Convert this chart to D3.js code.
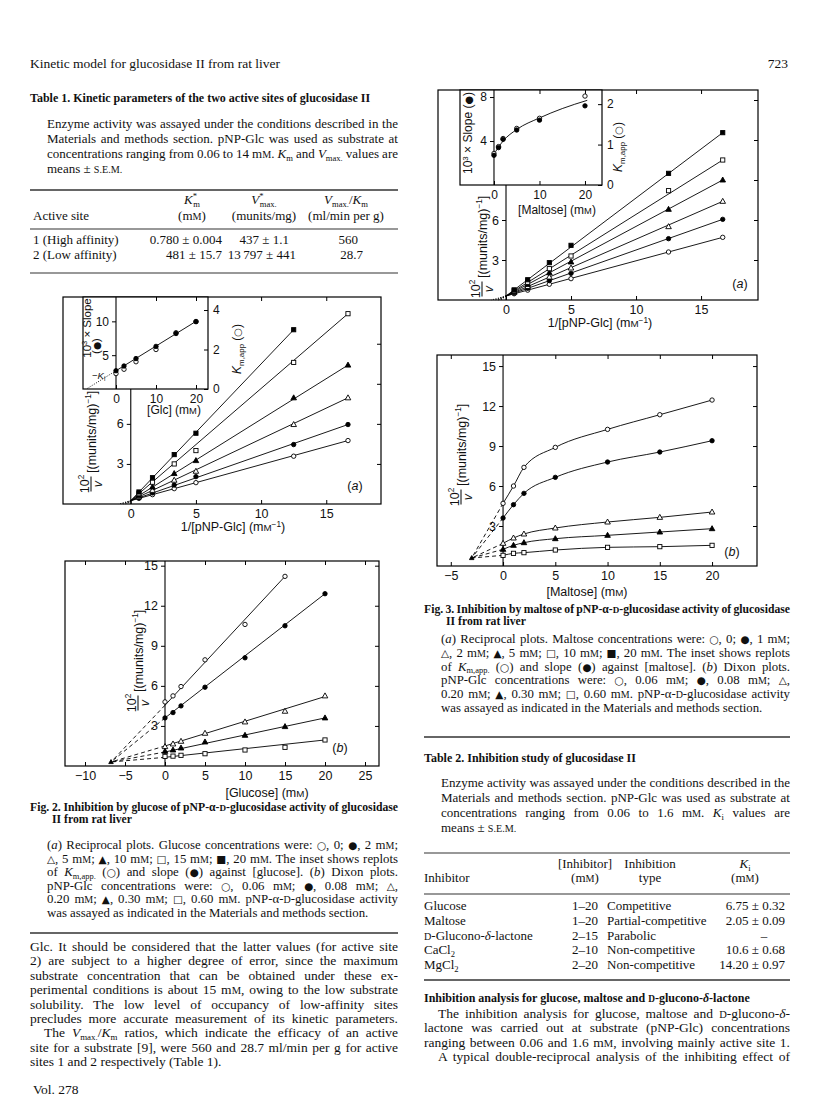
<!DOCTYPE html>
<html><head><meta charset="utf-8">
<script src="https://cdn.jsdelivr.net/npm/d3@7"></script>
<style>
html,body{margin:0;padding:0;background:#fff;}
svg{display:block;}
</style></head><body>
<svg id="page" width="816" height="1108"></svg>
<script>
// ---------------- DATA ----------------
// Fig 2a: reciprocal plots, glucose inhibitor
const fig2aX = [0.625, 1.667, 3.333, 5, 12.5, 16.667];
const fig2aGlc0  = [0.42, 0.70, 1.15, 1.60, 3.58, 4.75];
const fig2aGlc2  = [0.47, 0.83, 1.42, 2.05, 4.45, 5.95];
const fig2aGlc5  = [0.54, 1.02, 1.78, 2.45, 5.95, 7.95];
const fig2aGlc10 = [0.63, 1.27, 2.28, 3.25, 7.95, 10.4];
const fig2aGlc15 = [0.77, 1.63, 3.00, 4.00, 10.6, 14.25];
const fig2aGlc20 = [0.90, 1.97, 3.70, 5.30, 13.05];
const fig2aIntercept = 0.25;
// Fig 2a inset
const inset2aX = [0, 2, 5, 10, 15, 20];
const inset2aSlope = [2.7, 3.4, 4.5, 6.3, 8.2, 9.95];
const inset2aKm = [0.78, 1.0, 1.38, 2.0, 2.85, 3.42];
const inset2aFitX = [0, 20];
const inset2aFitY = [2.7, 10.0];
// Fig 2b: Dixon plots, glucose
const fig2bX = [0, 1, 2, 5, 10, 15, 20];
const fig2bS006 = [4.8, 5.25, 5.95, 7.95, 10.6, 14.2];
const fig2bS008 = [3.6, 4.0, 4.5, 5.9, 8.1, 10.5, 12.9];
const fig2bS020 = [1.45, 1.65, 1.85, 2.45, 3.3, 4.1, 5.25];
const fig2bS030 = [1.1, 1.2, 1.35, 1.8, 2.3, 2.95, 3.6];
const fig2bS060 = [0.72, 0.74, 0.8, 0.92, 1.2, 1.4, 1.95];
const fig2bFitStart = [4.55, 3.6, 1.5, 1.05, 0.65];
const fig2bFitEnd = [14.2, 12.9, 5.2, 3.6, 1.95];
const fig2bFitEndX = [15, 20, 20, 20, 20];
const fig2bMeet = [-6.75, 0.3];
// Fig 3a: reciprocal plots, maltose
const fig3aX = [0.625, 1.667, 3.333, 5, 12.5, 16.667];
const fig3aMal0  = [0.47, 0.74, 1.18, 1.60, 3.60, 4.70];
const fig3aMal1  = [0.52, 0.88, 1.45, 2.00, 4.60, 6.05];
const fig3aMal2  = [0.57, 1.01, 1.72, 2.40, 5.50, 7.40];
const fig3aMal5  = [0.63, 1.17, 2.04, 2.85, 6.80, 9.00];
const fig3aMal10 = [0.69, 1.33, 2.35, 3.30, 8.20, 10.5];
const fig3aMal20 = [0.76, 1.52, 2.80, 4.10, 9.50, 12.55];
const fig3aIntercept = 0.3;
// Fig 3a inset
const inset3aX = [0, 1, 2, 5, 10, 20];
const inset3aSlope = [2.7, 3.4, 4.15, 5.0, 5.9, 7.2];
const inset3aKm = [0.78, 0.95, 1.15, 1.4, 1.65, 2.2];
const inset3aCurveX = [-0.3, 1, 2, 5, 10, 15, 20.5];
const inset3aCurveY = [2.6, 3.45, 4.0, 5.05, 6.1, 6.95, 7.7];
// Fig 3b: Dixon plots, maltose
const fig3bX = [0, 1, 2, 5, 10, 15, 20];
const fig3bS006 = [4.7, 6.0, 7.4, 8.9, 10.25, 11.35, 12.45];
const fig3bS008 = [3.6, 4.6, 5.45, 6.65, 7.8, 8.55, 9.4];
const fig3bS020 = [1.7, 2.1, 2.4, 2.85, 3.3, 3.65, 4.05];
const fig3bS030 = [1.25, 1.55, 1.75, 2.05, 2.3, 2.55, 2.8];
const fig3bS060 = [0.8, 0.95, 1.0, 1.2, 1.4, 1.45, 1.55];
const fig3bMeet = [-3.0, 0.6];
// Tables
const table1Site = ["1 (High affinity)", "2 (Low affinity)"];
const table1Km = ["0.780 ± 0.004", "481 ± 15.7"];
const table1Vmax = ["437 ± 1.1", "13\u2009797 ± 441"];
const table1Ratio = ["560", "28.7"];
const table2Inhibitor = ["Glucose", "Maltose", "[sc]d[/sc]-Glucono-[i]δ[/i]-lactone", "CaCl[sub]2[/sub]", "MgCl[sub]2[/sub]"];
const table2Range = ["1–20", "1–20", "2–15", "2–10", "2–20"];
const table2Type = ["Competitive", "Partial-competitive", "Parabolic", "Non-competitive", "Non-competitive"];
const table2Ki = ["6.75 ± 0.32", "2.05 ± 0.09", "–", "10.6 ± 0.68", "14.20 ± 0.97"];
// Texts
const table1Caption = [
 "Enzyme activity was assayed under the conditions described in the",
 "Materials and methods section. pNP-Glc was used as substrate at",
 "concentrations ranging from 0.06 to 14 m[sc]m[/sc]. [i]K[/i][sub]m[/sub] and [i]V[/i][sub]max.[/sub] values are",
 "means ± [sc]s.e.m.[/sc]"];
const fig2Title = ["Fig. 2. Inhibition by glucose of pNP-α-[sc]d[/sc]-glucosidase activity of glucosidase", "II from rat liver"];
const fig2Caption = [
 "([i]a[/i]) Reciprocal plots. Glucose concentrations were: ○, 0; ●, 2 m[sc]m[/sc];",
 "△, 5 m[sc]m[/sc]; ▲, 10 m[sc]m[/sc]; □, 15 m[sc]m[/sc]; ■, 20 m[sc]m[/sc]. The inset shows replots",
 "of [i]K[/i][sub]m,app.[/sub] (○) and slope (●) against [glucose]. ([i]b[/i]) Dixon plots.",
 "pNP-Glc concentrations were: ○, 0.06 m[sc]m[/sc]; ●, 0.08 m[sc]m[/sc]; △,",
 "0.20 m[sc]m[/sc]; ▲, 0.30 m[sc]m[/sc]; □, 0.60 m[sc]m[/sc]. pNP-α-[sc]d[/sc]-glucosidase activity",
 "was assayed as indicated in the Materials and methods section."];
const leftBody = [
 "Glc. It should be considered that the latter values (for active site",
 "2) are subject to a higher degree of error, since the maximum",
 "substrate concentration that can be obtained under these ex-",
 "perimental conditions is about 15 m[sc]m[/sc], owing to the low substrate",
 "solubility. The low level of occupancy of low-affinity sites",
 "precludes more accurate measurement of its kinetic parameters.",
 "The [i]V[/i][sub]max.[/sub]/[i]K[/i][sub]m[/sub] ratios, which indicate the efficacy of an active",
 "site for a substrate [9], were 560 and 28.7 ml/min per g for active",
 "sites 1 and 2 respectively (Table 1)."];
const fig3Title = ["Fig. 3. Inhibition by maltose of pNP-α-[sc]d[/sc]-glucosidase activity of glucosidase", "II from rat liver"];
const fig3Caption = [
 "([i]a[/i]) Reciprocal plots. Maltose concentrations were: ○, 0; ●, 1 m[sc]m[/sc];",
 "△, 2 m[sc]m[/sc]; ▲, 5 m[sc]m[/sc]; □, 10 m[sc]m[/sc]; ■, 20 m[sc]m[/sc]. The inset shows replots",
 "of [i]K[/i][sub]m,app.[/sub] (○) and slope (●) against [maltose]. ([i]b[/i]) Dixon plots.",
 "pNP-Glc concentrations were: ○, 0.06 m[sc]m[/sc]; ●, 0.08 m[sc]m[/sc]; △,",
 "0.20 m[sc]m[/sc]; ▲, 0.30 m[sc]m[/sc]; □, 0.60 m[sc]m[/sc]. pNP-α-[sc]d[/sc]-glucosidase activity",
 "was assayed as indicated in the Materials and methods section."];
const table2Caption = [
 "Enzyme activity was assayed under the conditions described in the",
 "Materials and methods section. pNP-Glc was used as substrate at",
 "concentrations ranging from 0.06 to 1.6 m[sc]m[/sc]. [i]K[/i][sub]i[/sub] values are",
 "means ± [sc]s.e.m.[/sc]"];
const rightHeading = "Inhibition analysis for glucose, maltose and [sc]d[/sc]-glucono-[i]δ[/i]-lactone";
const rightBody = [
 "The inhibition analysis for glucose, maltose and [sc]d[/sc]-glucono-[i]δ[/i]-",
 "lactone was carried out at substrate (pNP-Glc) concentrations",
 "ranging between 0.06 and 1.6 m[sc]m[/sc], involving mainly active site 1.",
 "A typical double-reciprocal analysis of the inhibiting effect of"];

// ---------------- HELPERS ----------------
const SERIF = '"Liberation Serif","Times New Roman",Times,serif';
const SANS = '"Liberation Sans",Arial,Helvetica,sans-serif';
const SYM = '"DejaVu Sans",sans-serif';
const svg = d3.select("#page");
svg.append("rect").attr("width", 816).attr("height", 1108).attr("fill", "#fff");

function rich(t, str, fs) {
  const re = /\[(\/?)(i|b|sub|sup|sc|sb)\]/g;
  const st = {i:0, b:0, sub:0, sup:0, sc:0, sb:0};
  let last = 0, m, cur = 0, pendDx = 0;
  const emitOne = (s, isSym) => {
    if (!s) return;
    let size = fs, off = 0;
    if (st.sub || st.sb) { size = fs * 0.66; off = fs * 0.22; }
    if (st.sup) { size = fs * 0.66; off = -fs * 0.36; }
    let txt = s;
    if (st.sc) { txt = s.toUpperCase(); size *= 0.78; }
    if (isSym) size *= 0.82;
    const ts = t.append("tspan").text(txt).attr("font-size", size);
    if (isSym) ts.attr("font-family", SYM);
    if (st.i) ts.attr("font-style", "italic");
    if (st.b) ts.attr("font-weight", "bold");
    if (off !== cur) { ts.attr("dy", off - cur); cur = off; }
    if (pendDx) { ts.attr("dx", pendDx); pendDx = 0; }
  };
  const emit = s => {
    if (!s) return;
    s.split(/([○●△▲□■])/).forEach(p => emitOne(p, /^[○●△▲□■]$/.test(p)));
  };
  while ((m = re.exec(str))) {
    emit(str.slice(last, m.index));
    st[m[2]] += m[1] ? -1 : 1;
    if (m[2] === "sb" && !m[1]) pendDx = -fs * 0.3;
    last = re.lastIndex;
  }
  emit(str.slice(last));
  return t;
}
function tline(g, x, y, str, o) {
  o = o || {};
  const fs = o.fs || 12;
  const t = g.append("text").attr("x", x).attr("y", y)
    .attr("font-family", o.family || SERIF).attr("font-size", fs)
    .attr("text-anchor", o.anchor || "start").attr("fill", "#111");
  if (o.weight) t.attr("font-weight", o.weight);
  if (o.style) t.attr("font-style", o.style);
  rich(t, str, fs);
  if (o.width) {
    const nat = t.node().getComputedTextLength();
    const sp = (t.text().match(/ /g) || []).length;
    if (sp > 0) t.style("word-spacing", ((o.width - nat) / sp) + "px");
  }
  return t;
}
function para(g, lines, o) {
  lines.forEach((ln, i) => {
    const xi = o.x + ((o.indents && o.indents[i]) || 0);
    const just = !(o.noJustify || []).includes(i);
    tline(g, xi, o.y + i * o.lh, ln, {fs: o.fs, width: just ? o.right - xi : null, weight: o.weight});
  });
}
function rule(g, x1, x2, y, w) {
  g.append("line").attr("x1", x1).attr("x2", x2).attr("y1", y).attr("y2", y)
    .attr("stroke", "#333").attr("stroke-width", w || 1.2);
}
function marker(g, type, cx, cy, s) {
  s = s || 1;
  const open = type[0] === "o";
  const fill = open ? "#fff" : "#000";
  let el;
  if (type[1] === "c") el = g.append("circle").attr("cx", cx).attr("cy", cy).attr("r", 2.2 * s);
  else if (type[1] === "t") el = g.append("path").attr("d", `M${cx},${cy - 3 * s}L${cx + 2.8 * s},${cy + 2 * s}L${cx - 2.8 * s},${cy + 2 * s}Z`);
  else el = g.append("rect").attr("x", cx - 2.1 * s).attr("y", cy - 2.1 * s).attr("width", 4.2 * s).attr("height", 4.2 * s);
  el.attr("fill", fill).attr("stroke", "#000").attr("stroke-width", 0.9);
}
function styleAxis(s, fs) {
  s.attr("font-family", SANS).attr("font-size", fs);
  s.select(".domain").remove();
  s.selectAll("line").attr("stroke-width", 1);
  s.selectAll("text").attr("fill", "#111");
}
function frameAxes(g, sx, sy, o) {
  const [xl, xr] = sx.range(), [yb, yt] = sy.range();
  const fs = o.fs || 12.5;
  g.append("rect").attr("x", xl).attr("y", yt).attr("width", xr - xl).attr("height", yb - yt)
    .attr("fill", o.fill || "none").attr("stroke", "#000").attr("stroke-width", 1.2);
  if (o.bottomTicks) g.append("g").attr("transform", `translate(0,${yb})`)
    .call(d3.axisBottom(sx).tickValues(o.bottomTicks).tickSize(-4).tickPadding(o.xPad || 5).tickFormat(d3.format("")))
    .call(s => styleAxis(s, fs));
  if (o.topTicks) g.append("g").attr("transform", `translate(0,${yt})`)
    .call(d3.axisTop(sx).tickValues(o.topTicks).tickSize(-4).tickFormat(""))
    .call(s => styleAxis(s, fs));
  if (o.rightTicks) g.append("g").attr("transform", `translate(${xr},0)`)
    .call(d3.axisRight(o.sr || sy).tickValues(o.rightTicks).tickSize(-4).tickPadding(5)
      .tickFormat(o.rightLabels ? d3.format("") : ""))
    .call(s => styleAxis(s, fs));
  if (o.yTicks) {
    g.append("line").attr("x1", sx(0)).attr("x2", sx(0)).attr("y1", yb).attr("y2", yt)
      .attr("stroke", "#000").attr("stroke-width", 1.1);
    g.append("g").attr("transform", `translate(${sx(0)},0)`)
      .call(d3.axisLeft(sy).tickValues(o.yTicks).tickSize(4).tickPadding(3).tickFormat(d3.format("")))
      .call(s => styleAxis(s, fs));
  }
}
function fracLabel(g, x, y, fs) {
  const gg = g.append("g").attr("transform", `translate(${x},${y}) rotate(-90)`);
  tline(gg, 0, -2.5, "10[sup]2[/sup]", {fs: fs, family: SANS, anchor: "middle"});
  gg.append("line").attr("x1", -7.5).attr("x2", 7.5).attr("y1", 0).attr("y2", 0).attr("stroke", "#000").attr("stroke-width", 1);
  tline(gg, 0, fs * 0.85, "[i]v[/i]", {fs: fs, family: SANS, anchor: "middle"});
  tline(gg, 11, fs * 0.36, "[(munits/mg)[sup]−1[/sup]]", {fs: fs, family: SANS});
}
function rotLabel(g, x, y, str, fs) {
  const gg = g.append("g").attr("transform", `translate(${x},${y}) rotate(-90)`);
  tline(gg, 0, 0, str, {fs: fs, family: SANS, anchor: "middle"});
}
const mk6 = ["oc", "fc", "ot", "ft", "os", "fs"];
const mk5 = ["oc", "fc", "ot", "ft", "os"];
const lineStyle = p => p.attr("fill", "none").attr("stroke", "#000").attr("stroke-width", 0.9);

// ---------------- PAGE HEADER ----------------
const pg = svg.append("g");
tline(pg, 30, 68, "Kinetic model for glucosidase II from rat liver", {fs: 13.5});
tline(pg, 788, 68, "723", {fs: 13.5, anchor: "end"});

// ---------------- TABLE 1 ----------------
tline(pg, 30, 102, "Table 1. Kinetic parameters of the two active sites of glucosidase II", {fs: 12, weight: "bold"});
para(pg, table1Caption, {x: 47, y: 128, lh: 15, fs: 13, right: 398, noJustify: [3]});
rule(pg, 30, 398, 190, 1.4);
tline(pg, 33, 220, "Active site", {fs: 13});
tline(pg, 192, 204, "[i]K[/i][sup]*[/sup][sb]m[/sb]", {fs: 13, anchor: "middle"});
tline(pg, 192, 220, "(m[sc]m[/sc])", {fs: 13, anchor: "middle"});
tline(pg, 264, 204, "[i]V[/i][sup]*[/sup][sb]max.[/sb]", {fs: 13, anchor: "middle"});
tline(pg, 264, 220, "(munits/mg)", {fs: 13, anchor: "middle"});
tline(pg, 346, 204, "[i]V[/i][sub]max.[/sub]/[i]K[/i][sub]m[/sub]", {fs: 13, anchor: "middle"});
tline(pg, 346, 220, "(ml/min per g)", {fs: 13, anchor: "middle"});
rule(pg, 30, 398, 229, 1.2);
table1Site.forEach((s, i) => {
  const y = 244 + i * 14.5;
  tline(pg, 33, y, s, {fs: 13});
  tline(pg, 222, y, table1Km[i], {fs: 13, anchor: "end"});
  tline(pg, i === 0 ? 289 : 296, y, table1Vmax[i], {fs: 13, anchor: "end"});
  tline(pg, i === 0 ? 358 : 363, y, table1Ratio[i], {fs: 13, anchor: "end"});
});
rule(pg, 30, 398, 273, 1.2);

// ---------------- FIG 2a ----------------
{
  const g = svg.append("g");
  const sx = d3.scaleLinear().domain([-5.2, 19.2]).range([63, 381]);
  const sy = d3.scaleLinear().domain([0, 15.5]).range([504, 297]);
  frameAxes(g, sx, sy, {bottomTicks: [0, 5, 10, 15], topTicks: [5, 10, 15], rightTicks: [3, 6, 9, 12], yTicks: [3, 6, 9, 12]});
  const ln = d3.line().x(d => sx(d[0])).y(d => sy(d[1]));
  const series = [fig2aGlc0, fig2aGlc2, fig2aGlc5, fig2aGlc10, fig2aGlc15, fig2aGlc20];
  series.forEach(ys => {
    const n = ys.length, xe = fig2aX[n - 1], ye = ys[n - 1];
    const slope = (ye - fig2aIntercept) / xe;
    g.append("path").attr("d", ln([[0, fig2aIntercept], [xe, ye]])).call(lineStyle);
    g.append("path").attr("d", ln([[0, fig2aIntercept], [-fig2aIntercept / slope, 0]])).call(lineStyle).attr("stroke-dasharray", "1,1.5");
  });
  series.forEach((ys, k) => ys.forEach((v, i) => marker(g, mk6[k], sx(fig2aX[i]), sy(v))));
  tline(g, 233, 531, "1/[pNP-Glc] (m[sc]m[/sc][sup]−1[/sup])", {fs: 12.5, family: SANS, anchor: "middle"});
  tline(g, 355, 490, "([i]a[/i])", {fs: 12.5, family: SANS, anchor: "middle"});
  fracLabel(g, 91, 484, 12.5);
  // inset
  const ix = d3.scaleLinear().domain([-8.25, 23]).range([83, 208]);
  const iyL = d3.scaleLinear().domain([0, 13.6]).range([389, 297]);
  const iyR = d3.scaleLinear().domain([0, 4.66]).range([389, 297]);
  frameAxes(g, ix, iyL, {fill: "#fff", fs: 12, bottomTicks: [0, 10, 20], topTicks: [10, 20], rightTicks: [0, 2, 4], rightLabels: true, sr: iyR, yTicks: [5, 10]});
  const il = d3.line().x(d => ix(d[0])).y(d => iyL(d[1]));
  const s = (inset2aFitY[1] - inset2aFitY[0]) / (inset2aFitX[1] - inset2aFitX[0]);
  g.append("path").attr("d", il([[inset2aFitX[0], inset2aFitY[0]], [inset2aFitX[1], inset2aFitY[1]]])).call(lineStyle);
  g.append("path").attr("d", il([[0, inset2aFitY[0]], [-inset2aFitY[0] / s, 0]])).call(lineStyle).attr("stroke-dasharray", "1,1.5");
  inset2aX.forEach((x, i) => { marker(g, "oc", ix(x), iyR(inset2aKm[i])); marker(g, "fc", ix(x), iyL(inset2aSlope[i])); });
  tline(g, 174, 414, "[Glc] (m[sc]m[/sc])", {fs: 12, family: SANS, anchor: "middle"});
  rotLabel(g, 241, 349, "[i]K[/i][sub]m,app[/sub] (○)", 12);
  rotLabel(g, 91, 328, "10[sup]3[/sup] × Slope", 11.5);
  rotLabel(g, 100, 346, "(●)", 11.5);
  tline(g, 92, 379, "−[i]K[/i][sub]i[/sub]", {fs: 9.5, family: SANS});
}

// ---------------- FIG 2b ----------------
{
  const g = svg.append("g");
  const sx = d3.scaleLinear().domain([-12.5, 26.75]).range([65, 379]);
  const sy = d3.scaleLinear().domain([0, 15.35]).range([766, 561]);
  frameAxes(g, sx, sy, {bottomTicks: [-10, -5, 0, 5, 10, 15, 20, 25], topTicks: [-10, -5, 5, 10, 15, 20, 25], rightTicks: [3, 6, 9, 12, 15], yTicks: [3, 6, 9, 12, 15]});
  const ln = d3.line().x(d => sx(d[0])).y(d => sy(d[1]));
  const series = [fig2bS006, fig2bS008, fig2bS020, fig2bS030, fig2bS060];
  series.forEach((ys, k) => {
    g.append("path").attr("d", ln([[0, fig2bFitStart[k]], [fig2bFitEndX[k], fig2bFitEnd[k]]])).call(lineStyle);
    g.append("path").attr("d", ln([[0, fig2bFitStart[k]], fig2bMeet])).call(lineStyle).attr("stroke-dasharray", "4,3");
  });
  series.forEach((ys, k) => ys.forEach((v, i) => marker(g, mk5[k], sx(fig2bX[i]), sy(v))));
  marker(g, "ft", sx(fig2bMeet[0]), sy(fig2bMeet[1]), 0.8);
  tline(g, 267, 797, "[Glucose] (m[sc]m[/sc])", {fs: 12.5, family: SANS, anchor: "middle"});
  tline(g, 340, 752, "([i]b[/i])", {fs: 12.5, family: SANS, anchor: "middle"});
  fracLabel(g, 138, 703, 12.5);
}
tline(pg, 30, 811, fig2Title[0], {fs: 11.7, weight: "bold", width: 368});
tline(pg, 52, 823, fig2Title[1], {fs: 11.7, weight: "bold"});
para(pg, fig2Caption, {x: 47, y: 849, lh: 13.6, fs: 12.8, right: 398, noJustify: [5]});
rule(pg, 30, 398, 933, 1.4);
para(pg, leftBody, {x: 30, y: 951, lh: 14.4, fs: 13.5, right: 398, indents: {6: 14}, noJustify: [8]});
tline(pg, 33, 1094, "Vol. 278", {fs: 13.5});

// ---------------- FIG 3a ----------------
{
  const g = svg.append("g");
  const sx = d3.scaleLinear().domain([-5.23, 19.38]).range([438, 758]);
  const sy = d3.scaleLinear().domain([0, 15.75]).range([300, 90]);
  frameAxes(g, sx, sy, {bottomTicks: [0, 5, 10, 15], topTicks: [5, 10, 15], rightTicks: [3, 6, 9, 12, 15], yTicks: [3, 6, 9, 12]});
  const ln = d3.line().x(d => sx(d[0])).y(d => sy(d[1]));
  const series = [fig3aMal0, fig3aMal1, fig3aMal2, fig3aMal5, fig3aMal10, fig3aMal20];
  series.forEach(ys => {
    const n = ys.length, xe = fig3aX[n - 1], ye = ys[n - 1];
    const slope = (ye - fig3aIntercept) / xe;
    g.append("path").attr("d", ln([[0, fig3aIntercept], [xe, ye]])).call(lineStyle);
    g.append("path").attr("d", ln([[0, fig3aIntercept], [-fig3aIntercept / slope, 0]])).call(lineStyle).attr("stroke-dasharray", "1,1.5");
  });
  series.forEach((ys, k) => ys.forEach((v, i) => marker(g, mk6[k], sx(fig3aX[i]), sy(v))));
  tline(g, 600, 327, "1/[pNP-Glc] (m[sc]m[/sc][sup]−1[/sup])", {fs: 12.5, family: SANS, anchor: "middle"});
  tline(g, 740, 288, "([i]a[/i])", {fs: 12.5, family: SANS, anchor: "middle"});
  fracLabel(g, 482, 289, 12.5);
  // inset
  const ix = d3.scaleLinear().domain([-7.47, 23.74]).range([460, 602]);
  const iyL = d3.scaleLinear().domain([0, 8.64]).range([185, 90]);
  const iyR = d3.scaleLinear().domain([0, 2.35]).range([185, 90]);
  frameAxes(g, ix, iyL, {fill: "#fff", fs: 12, bottomTicks: [0, 10, 20], topTicks: [10, 20], rightTicks: [0, 1, 2], rightLabels: true, sr: iyR, yTicks: [4, 8]});
  const cl = d3.line().x(d => ix(d[0])).y(d => iyL(d[1])).curve(d3.curveMonotoneX);
  g.append("path").attr("d", cl(inset3aCurveX.map((x, i) => [x, inset3aCurveY[i]]))).call(lineStyle);
  inset3aX.forEach((x, i) => { marker(g, "oc", ix(x), iyR(inset3aKm[i])); marker(g, "fc", ix(x), iyL(inset3aSlope[i])); });
  tline(g, 557, 214, "[Maltose] (m[sc]m[/sc])", {fs: 12, family: SANS, anchor: "middle"});
  rotLabel(g, 622, 147, "[i]K[/i][sub]m,app[/sub] (○)", 12);
  rotLabel(g, 472, 133, "10[sup]3[/sup] × Slope (●)", 12);
}

// ---------------- FIG 3b ----------------
{
  const g = svg.append("g");
  const sx = d3.scaleLinear().domain([-6.32, 24.3]).range([437, 757]);
  const sy = d3.scaleLinear().domain([0, 15.83]).range([566, 355]);
  frameAxes(g, sx, sy, {bottomTicks: [-5, 0, 5, 10, 15, 20], topTicks: [-5, 5, 10, 15, 20], rightTicks: [3, 6, 9, 12, 15], yTicks: [3, 6, 9, 12, 15]});
  const cl = d3.line().x(d => sx(d[0])).y(d => sy(d[1])).curve(d3.curveMonotoneX);
  const ln = d3.line().x(d => sx(d[0])).y(d => sy(d[1]));
  const series = [fig3bS006, fig3bS008, fig3bS020, fig3bS030, fig3bS060];
  series.forEach(ys => {
    g.append("path").attr("d", cl(ys.map((v, i) => [fig3bX[i], v]))).call(lineStyle);
    g.append("path").attr("d", ln([[0, ys[0]], fig3bMeet])).call(lineStyle).attr("stroke-dasharray", "4,3");
  });
  series.forEach((ys, k) => ys.forEach((v, i) => marker(g, mk5[k], sx(fig3bX[i]), sy(v))));
  marker(g, "ft", sx(fig3bMeet[0]), sy(fig3bMeet[1]), 0.8);
  tline(g, 587, 596, "[Maltose] (m[sc]m[/sc])", {fs: 12.5, family: SANS, anchor: "middle"});
  tline(g, 732, 556, "([i]b[/i])", {fs: 12.5, family: SANS, anchor: "middle"});
  fracLabel(g, 461, 497, 12.5);
}
tline(pg, 424, 613, fig3Title[0], {fs: 11.7, weight: "bold", width: 366});
tline(pg, 446, 625, fig3Title[1], {fs: 11.7, weight: "bold"});
para(pg, fig3Caption, {x: 441, y: 643, lh: 13.8, fs: 12.8, right: 790, noJustify: [5]});
rule(pg, 424, 790, 737, 1.4);

// ---------------- TABLE 2 ----------------
tline(pg, 424, 762, "Table 2. Inhibition study of glucosidase II", {fs: 12, weight: "bold"});
para(pg, table2Caption, {x: 441, y: 787, lh: 15, fs: 13, right: 790, noJustify: [3]});
rule(pg, 424, 790, 853, 1.2);
tline(pg, 424, 882, "Inhibitor", {fs: 13});
tline(pg, 585, 868, "[Inhibitor]", {fs: 13, anchor: "middle"});
tline(pg, 585, 882, "(m[sc]m[/sc])", {fs: 13, anchor: "middle"});
tline(pg, 650, 868, "Inhibition", {fs: 13, anchor: "middle"});
tline(pg, 650, 882, "type", {fs: 13, anchor: "middle"});
tline(pg, 745, 868, "[i]K[/i][sub]i[/sub]", {fs: 13, anchor: "middle"});
tline(pg, 745, 882, "(m[sc]m[/sc])", {fs: 13, anchor: "middle"});
rule(pg, 424, 790, 894, 1.2);
table2Inhibitor.forEach((s, i) => {
  const y = 910 + i * 14.8;
  tline(pg, 424, y, s, {fs: 13});
  tline(pg, 598, y, table2Range[i], {fs: 13, anchor: "end"});
  tline(pg, 607, y, table2Type[i], {fs: 13});
  if (table2Ki[i] === "–") tline(pg, 764, y, table2Ki[i], {fs: 13, anchor: "middle"});
  else tline(pg, 785, y, table2Ki[i], {fs: 13, anchor: "end"});
});
rule(pg, 424, 790, 980, 1.4);
tline(pg, 424, 1002, rightHeading, {fs: 12, weight: "bold"});
para(pg, rightBody, {x: 424, y: 1018, lh: 14.4, fs: 13.5, right: 790, indents: {0: 14, 3: 14}});
</script></body></html>
